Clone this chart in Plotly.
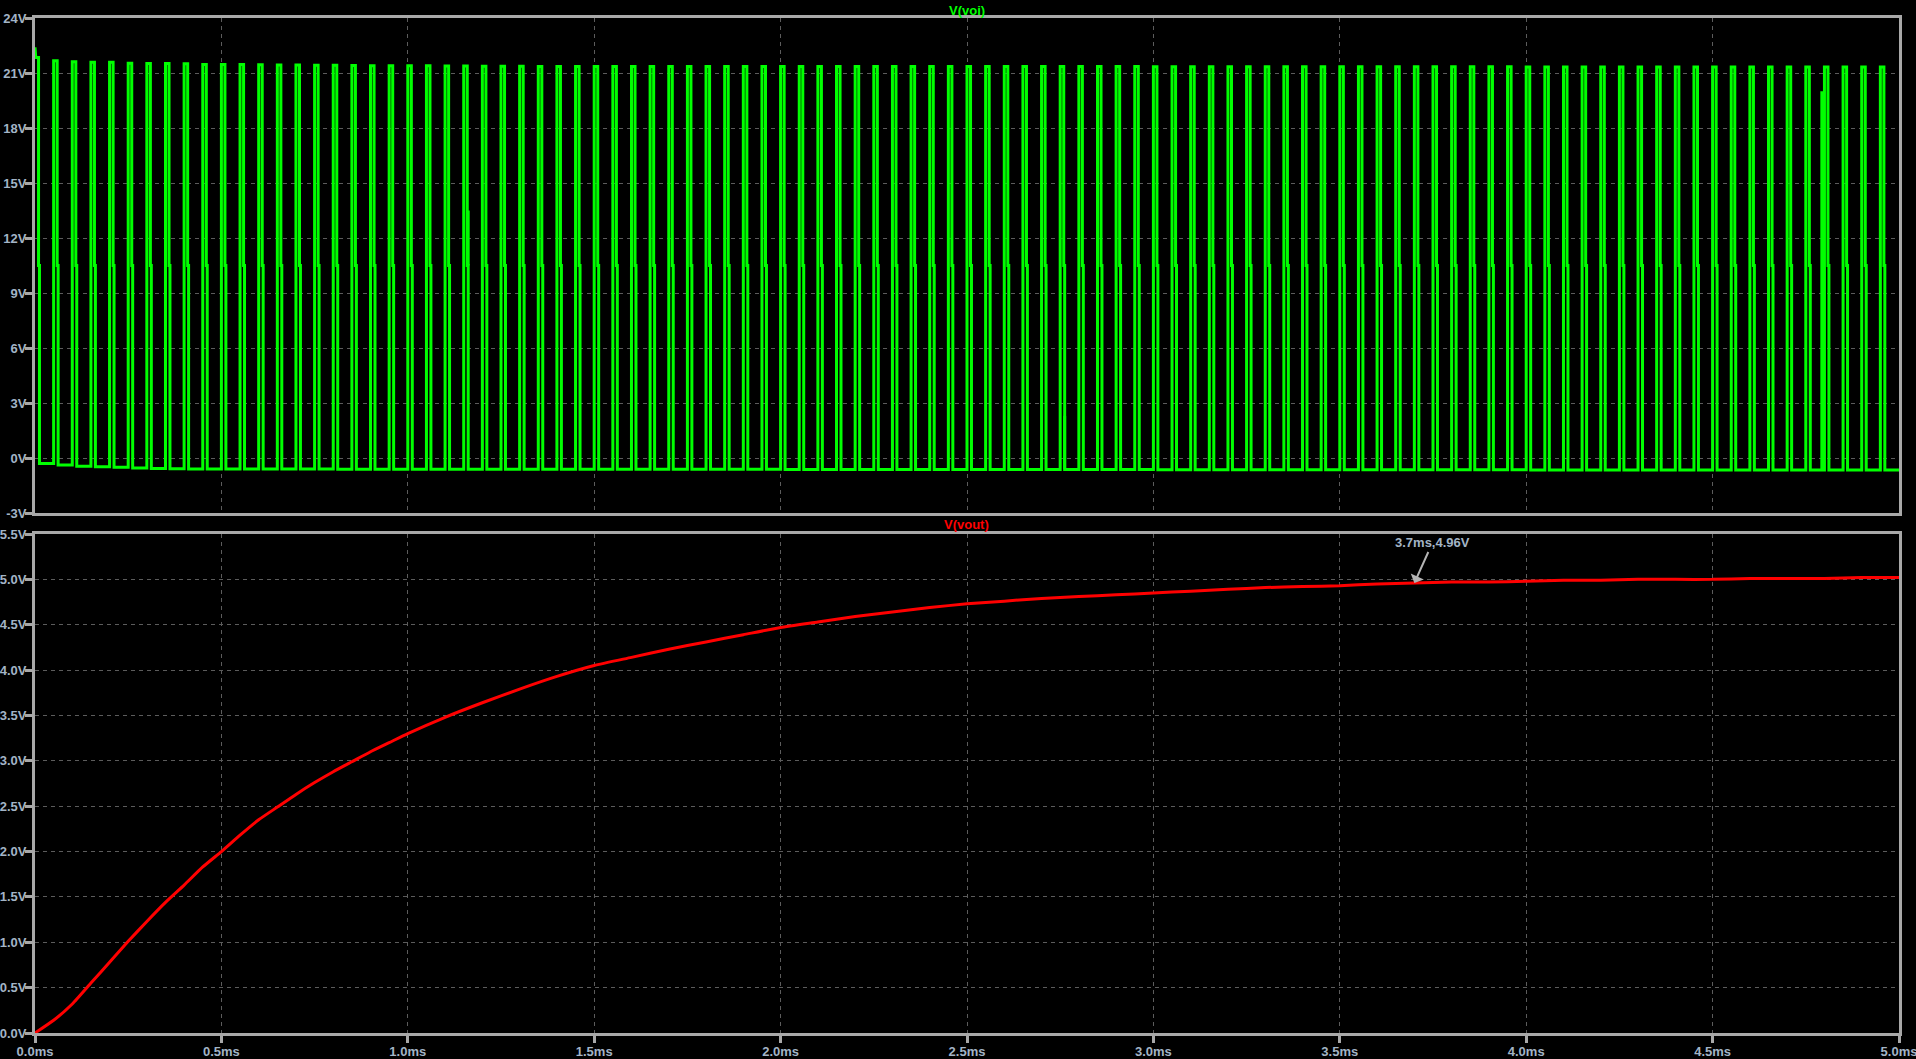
import plotly.graph_objects as go

# ---------------- data ----------------
# V(voi): switch-node square wave, 20 kHz (period 0.05 ms), 100 pulses in 5 ms
switch_period_ms = 0.05
on_time_ms = 0.0095          # time spent at the high level per pulse
plateau_time_ms = 0.0025     # short plateau on each falling edge
plateau_v = 10.5             # level of that plateau
voi_start_v = 22.4           # initial overshoot at t = 0

pulse_high_v = [
    21.85, 21.67, 21.62, 21.58, 21.58, 21.53, 21.52, 21.52, 21.50, 21.47,
    21.47, 21.46, 21.45, 21.44, 21.43, 21.42, 21.42, 21.41, 21.40, 21.40,
    21.39, 21.39, 21.38, 21.38, 21.37, 21.37, 21.37, 21.36, 21.36, 21.36,
    21.35, 21.35, 21.35, 21.35, 21.35, 21.35, 21.35, 21.35, 21.35, 21.35,
    21.35, 21.35, 21.35, 21.35, 21.35, 21.35, 21.35, 21.35, 21.35, 21.35,
    21.35, 21.35, 21.35, 21.35, 21.35, 21.35, 21.35, 21.35, 21.35, 21.35,
    21.34, 21.34, 21.34, 21.34, 21.34, 21.34, 21.34, 21.34, 21.34, 21.34,
    21.34, 21.34, 21.34, 21.34, 21.34, 21.34, 21.34, 21.34, 21.34, 21.34,
    21.33, 21.33, 21.33, 21.33, 21.33, 21.33, 21.33, 21.33, 21.33, 21.33,
    21.33, 21.33, 21.33, 21.33, 21.33, 21.33, 21.33, 21.33, 21.33, 21.33,
]
pulse_low_v = [
    -0.30, -0.38, -0.45, -0.48, -0.50, -0.55, -0.57, -0.58, -0.60, -0.60,
    -0.60, -0.60, -0.60, -0.60, -0.60, -0.60, -0.61, -0.61, -0.61, -0.61,
    -0.61, -0.61, -0.61, -0.61, -0.62, -0.62, -0.62, -0.62, -0.62, -0.62,
    -0.62, -0.62, -0.62, -0.62, -0.62, -0.62, -0.62, -0.62, -0.62, -0.62,
    -0.63, -0.63, -0.63, -0.63, -0.63, -0.63, -0.63, -0.63, -0.63, -0.63,
    -0.63, -0.63, -0.63, -0.63, -0.63, -0.63, -0.63, -0.63, -0.63, -0.63,
    -0.64, -0.64, -0.64, -0.64, -0.64, -0.64, -0.64, -0.64, -0.64, -0.64,
    -0.64, -0.64, -0.64, -0.64, -0.64, -0.64, -0.64, -0.64, -0.64, -0.64,
    -0.65, -0.65, -0.65, -0.65, -0.65, -0.65, -0.65, -0.65, -0.65, -0.65,
    -0.65, -0.65, -0.65, -0.65, -0.65, -0.65, -0.65, -0.65, -0.65, -0.65,
]
# isolated edge glitches seen in V(voi): time, lower and upper voltage
glitch_t_ms = [1.162, 2.762, 4.793]
glitch_lo_v = [10.5, -0.62, -0.65]
glitch_hi_v = [13.5, 2.3, 20.0]

# V(vout): output voltage readings
vout_t_ms = [
    0.00, 0.05, 0.10, 0.15, 0.20, 0.25, 0.30, 0.35, 0.40, 0.45,
    0.50, 0.55, 0.60, 0.65, 0.70, 0.75, 0.80, 0.85, 0.90, 0.95,
    1.0, 1.1, 1.2, 1.3, 1.4, 1.5, 1.6, 1.7, 1.8, 1.9,
    2.0, 2.1, 2.2, 2.3, 2.4, 2.5, 2.6, 2.7, 2.8, 2.9,
    3.0, 3.1, 3.2, 3.3, 3.4, 3.5, 3.6, 3.7, 3.8, 3.9,
    4.0, 4.1, 4.2, 4.3, 4.4, 4.5, 4.6, 4.7, 4.8, 4.9, 5.0,
]
vout_v = [
    0.00, 0.14, 0.32, 0.55, 0.78, 1.01, 1.23, 1.44, 1.63, 1.83,
    2.00, 2.18, 2.35, 2.49, 2.63, 2.76, 2.88, 2.99, 3.10, 3.20,
    3.30, 3.48, 3.64, 3.79, 3.93, 4.05, 4.14, 4.23, 4.31, 4.39,
    4.47, 4.53, 4.59, 4.64, 4.69, 4.73, 4.76, 4.79, 4.81, 4.83,
    4.85, 4.87, 4.89, 4.91, 4.92, 4.93, 4.95, 4.96, 4.97, 4.97,
    4.98, 4.99, 4.99, 5.00, 5.00, 5.00, 5.01, 5.01, 5.01, 5.02, 5.02,
]

cursor_t_ms = 3.7
cursor_v = 4.96
cursor_label = "3.7ms,4.96V"

voi_ticks = [-3, 0, 3, 6, 9, 12, 15, 18, 21, 24]
vout_ticks = [0.0, 0.5, 1.0, 1.5, 2.0, 2.5, 3.0, 3.5, 4.0, 4.5, 5.0, 5.5]
time_ticks = [0.0, 0.5, 1.0, 1.5, 2.0, 2.5, 3.0, 3.5, 4.0, 4.5, 5.0]

# ---------------- build the switch-node trace ----------------
voi_t = [0.0]
voi_v = [voi_start_v]
for k, (hi, lo) in enumerate(zip(pulse_high_v, pulse_low_v)):
    t0 = k * switch_period_ms
    if k > 0:
        voi_t += [t0, t0]
        voi_v += [pulse_low_v[k - 1], hi]
    else:
        voi_t += [0.002]
        voi_v += [hi]
    t1 = t0 + on_time_ms
    t2 = t1 + plateau_time_ms
    voi_t += [t1, t1, t2, t2]
    voi_v += [hi, plateau_v, plateau_v, lo]
voi_t.append(len(pulse_high_v) * switch_period_ms)
voi_v.append(pulse_low_v[-1])

gl_t, gl_v = [], []
for t, lo, hi in zip(glitch_t_ms, glitch_lo_v, glitch_hi_v):
    gl_t += [t, t, None]
    gl_v += [lo, hi, None]

# ---------------- figure ----------------
W, H = 1916, 1059
L, R = 35, 1899
top_y0, top_y1 = 18, 513
bot_y0, bot_y1 = 534, 1033

def ydom(a, b):
    return [1 - b / H, 1 - a / H]

FRAME = "#a8a8a8"
GRID = "#5c5c5c"
TICKTXT = "#a3b4c6"
FONT = "Liberation Sans, Arial, sans-serif"
FS = 13

fig = go.Figure()
fig.add_trace(go.Scatter(x=voi_t, y=voi_v, mode="lines",
                         line=dict(color="#00ff00", width=3),
                         xaxis="x", yaxis="y", hoverinfo="skip"))
fig.add_trace(go.Scatter(x=gl_t, y=gl_v, mode="lines",
                         line=dict(color="#00ff00", width=3),
                         xaxis="x", yaxis="y", hoverinfo="skip"))
fig.add_trace(go.Scatter(x=vout_t_ms, y=vout_v, mode="lines",
                         line=dict(color="#ff0000", width=3, shape="spline", smoothing=0.5),
                         xaxis="x2", yaxis="y2", hoverinfo="skip"))

tickfont = dict(family=FONT, size=FS, color=TICKTXT, weight="bold")
common_axis = dict(showline=True, mirror=True, linecolor=FRAME, linewidth=3,
                   showgrid=True, gridcolor=GRID, gridwidth=1, griddash="4px,4px",
                   zeroline=False, automargin=False, ticklabeloverflow="allow",
                   tickfont=tickfont,
                   ticks="outside", ticklen=7, tickwidth=3, tickcolor=FRAME)

fig.update_layout(
    width=W, height=H,
    margin=dict(l=0, r=0, t=0, b=0, pad=0),
    paper_bgcolor="#000000", plot_bgcolor="#000000",
    showlegend=False,
    xaxis=dict(common_axis, domain=[L / W, R / W], range=[0, 5],
               tickvals=time_ticks, showticklabels=False, ticks="",
               anchor="y"),
    yaxis=dict(common_axis, domain=ydom(top_y0, top_y1), range=[-3, 24],
               tickvals=voi_ticks, ticktext=[f"{v}V" for v in voi_ticks],
               ticklabelstandoff=-4, anchor="x"),
    xaxis2=dict(common_axis, domain=[L / W, R / W], range=[0, 5],
                tickvals=time_ticks, ticktext=[f"{v:.1f}ms" for v in time_ticks],
                ticklabelstandoff=-3, anchor="y2"),
    yaxis2=dict(common_axis, domain=ydom(bot_y0, bot_y1), range=[0, 5.5],
                tickvals=vout_ticks, ticktext=[f"{v:.1f}V" for v in vout_ticks],
                ticklabelstandoff=-4, anchor="x2"),
)

fig.add_annotation(x=(L + R) / 2 / W, y=1 - 11 / H, xref="paper", yref="paper",
                   xanchor="center", yanchor="middle",
                   text="V(voi)", showarrow=False,
                   font=dict(family=FONT, size=FS, color="#00ff00", weight="bold"))
fig.add_annotation(x=(L + R) / 2 / W, y=1 - 524 / H, xref="paper", yref="paper",
                   xanchor="center", yanchor="middle",
                   text="V(vout)", showarrow=False,
                   font=dict(family=FONT, size=FS, color="#ff0000", weight="bold"))
fig.add_annotation(x=cursor_t_ms, y=cursor_v, xref="x2", yref="y2",
                   text=cursor_label, showarrow=True, ax=18, ay=-40,
                   arrowhead=1, arrowsize=1.2, arrowwidth=2, arrowcolor="#b4b4b4",
                   font=dict(family=FONT, size=FS, color=TICKTXT, weight="bold"))

fig.write_html("out.html", config={"displayModeBar": False},
               post_script="document.body.style.margin='0';document.body.style.background='#000';")
